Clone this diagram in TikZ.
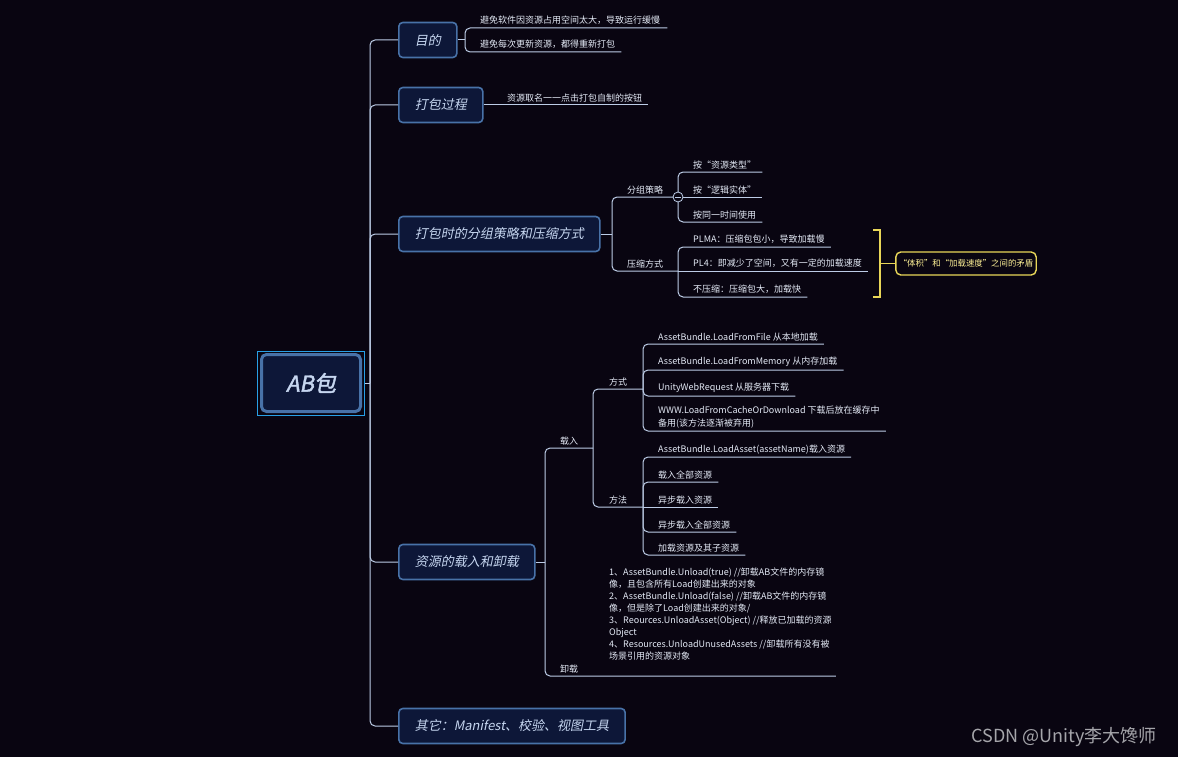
\documentclass[tikz,border=0pt]{standalone}
\usepackage{fontspec}
\setmainfont{Noto Sans CJK SC}
\newfontfamily\topicfont{Noto Sans CJK SC}[FakeSlant=0.2]
\newfontfamily\rootfont{Noto Sans CJK SC}[FakeSlant=0.2, FakeBold=2]
\usepackage{tikz}
\usetikzlibrary{calc,positioning}
\definecolor{bgc}{RGB}{9,5,17}
\definecolor{topicfill}{RGB}{13,23,56}
\definecolor{topicbd}{RGB}{72,114,168}
\definecolor{topictxt}{RGB}{198,214,240}
\definecolor{lnc}{RGB}{188,204,230}
\definecolor{leaftxt}{RGB}{228,234,246}
\definecolor{selbd}{RGB}{40,160,230}
\definecolor{sumc}{RGB}{232,214,88}
\definecolor{sumtxt}{RGB}{255,242,150}
\definecolor{markc}{RGB}{165,165,170}

\begin{document}
\begin{tikzpicture}[x=1pt, y=-1pt,
  topic/.style={draw=topicbd, line width=1.6pt, fill=topicfill, rounded corners=4pt, anchor=west, minimum height=35pt, inner xsep=16pt, text=topictxt, font=\topicfont\fontsize{13}{15}\selectfont},
  rootbox/.style={draw=topicbd, line width=3pt, fill=topicfill, rounded corners=5pt, minimum width=99pt, minimum height=57pt, text=topictxt, font=\rootfont\fontsize{22}{24}\selectfont},
  leaf/.style={anchor=south west, inner xsep=0pt, inner ysep=3pt, text=leaftxt, font=\fontsize{9}{12}\selectfont, align=left},
  ln/.style={draw=lnc, line width=1pt, rounded corners=5pt},
  fold/.style={circle, draw=lnc, fill=bgc, line width=0.8pt, minimum size=10pt, inner sep=0pt,
    path picture={\draw[lnc, line width=0.8pt] ([xshift=-3pt]path picture bounding box.center) -- ([xshift=3pt]path picture bounding box.center);}},
  sumln/.style={draw=sumc, line width=1.4pt}]
  \fill[bgc] (0,0) rectangle (1178,757);
  \useasboundingbox (0,0) rectangle (1178,757);
  % root and main topics
  \node[rootbox] (ab) at (311,383) {AB包};
  \node[draw=selbd, line width=0.8pt, minimum width=107pt, minimum height=64pt] (sel) at (ab) {};
  \coordinate (tr) at (370,383);
  \node[topic] (goal) at (398,40) {目的};
  \node[topic] (pack) at (398,105) {打包过程};
  \node[topic] (strat) at (398,234) {打包时的分组策略和压缩方式};
  \node[topic] (load) at (398,562) {资源的载入和卸载};
  \node[topic] (misc) at (398,726) {其它：Manifest、校验、视图工具};
  \draw[ln] (sel.east) -- (tr);
  \draw[ln] (tr) |- (goal.west);
  \draw[ln] (tr) |- (pack.west);
  \draw[ln] (tr) |- (strat.west);
  \draw[ln] (tr) |- (load.west);
  \draw[ln] (tr) |- (misc.west);
  % goal
  \coordinate (gj) at (465,40);
  \node[leaf] (g1) at (480,28) {避免软件因资源占用空间太大，导致运行缓慢};
  \node[leaf] (g2) at (480,52) {避免每次更新资源，都得重新打包};
  \draw[ln] (goal.east) -- (gj);
  \draw[ln] (gj) |- ($(g1.south east)+(7,0)$);
  \draw[ln] (gj) |- ($(g2.south east)+(6,0)$);
  % pack
  \node[leaf] (p1) at (507,105) {资源取名一一点击打包自制的按钮};
  \draw[ln] (pack.east) -- ($(p1.south east)+(6,0)$);
  % strategy
  \coordinate (sj) at (612,234);
  \node[leaf] (s1) at (627,197) {分组策略};
  \node[leaf] (s2) at (627,271) {压缩方式};
  \coordinate (s2j) at (678,271);
  \node[leaf] (a1) at (693,172) {按“资源类型”};
  \node[leaf] (a2) at (693,197) {按“逻辑实体”};
  \node[leaf] (a3) at (693,222) {按同一时间使用};
  \node[leaf] (b1) at (693,247) {PLMA：压缩包包小，导致加载慢};
  \node[leaf] (b2) at (693,271) {PL4：即减少了空间，又有一定的加载速度};
  \node[leaf] (b3) at (693,297) {不压缩：压缩包大，加载快};
  \draw[ln] (strat.east) -- (sj);
  \draw[ln] (sj) |- (678,197);
  \draw[ln] (sj) |- (s2j);
  \draw[ln] (678,197) |- ($(a1.south east)+(6,0)$);
  \draw[ln] (678,197) -- ($(a2.south east)+(6,0)$);
  \draw[ln] (678,197) |- ($(a3.south east)+(6,0)$);
  \node[fold] (s1f) at (678,197) {};
  \draw[ln] (s2j) |- ($(b1.south east)+(6,0)$);
  \draw[ln] (s2j) -- ($(b2.south east)+(6,0)$);
  \draw[ln] (s2j) |- ($(b3.south east)+(6,0)$);
  % summary
  \coordinate (sumt) at (873,230);
  \coordinate (sumb) at (873,297);
  \node[draw=sumc, line width=1.4pt, fill=bgc, rounded corners=5pt, minimum width=140pt, minimum height=23pt, inner xsep=3pt, text=sumtxt, font=\fontsize{8.4}{10}\selectfont] (sum) at (966,263.5) {“体积”和“加载速度”之间的矛盾};
  \draw[sumln] (sumt) -- ++(7,0) |- (sumb);
  \draw[sumln] (sum.west) -- ++(-16,0);
  % load / unload
  \coordinate (lj) at (545,562);
  \node[leaf] (l1) at (560,448) {载入};
  \coordinate (l1j) at (593,448);
  \node[leaf] (l2) at (560,676) {卸载};
  \node[leaf, font=\fontsize{9}{11.9}\selectfont] (u2) at (609,663) {1、AssetBundle.Unload(true) //卸载AB文件的内存镜\\像，且包含所有Load创建出来的对象\\2、AssetBundle.Unload(false) //卸载AB文件的内存镜\\像，但是除了Load创建出来的对象/\\3、Reources.UnloadAsset(Object) //释放已加载的资源\\Object\\4、Resources.UnloadUnusedAssets //卸载所有没有被\\场景引用的资源对象};
  \node[leaf] (w) at (609,389) {方式};
  \coordinate (wj) at (643,389);
  \node[leaf] (f) at (609,507) {方法};
  \coordinate (fj) at (643,507);
  \node[leaf] (c1) at (658,344) {AssetBundle.LoadFromFile 从本地加载};
  \node[leaf] (c2) at (658,370) {AssetBundle.LoadFromMemory 从内存加载};
  \node[leaf] (c3) at (658,396) {UnityWebRequest 从服务器下载};
  \node[leaf, font=\fontsize{9}{12.5}\selectfont] (c4) at (658,431) {WWW.LoadFromCacheOrDownload 下载后放在缓存中\\备用(该方法逐渐被弃用)};
  \node[leaf] (d1) at (658,457) {AssetBundle.LoadAsset(assetName)载入资源};
  \node[leaf] (d2) at (658,482) {载入全部资源};
  \node[leaf] (d3) at (658,507) {异步载入资源};
  \node[leaf] (d4) at (658,532) {异步载入全部资源};
  \node[leaf] (d5) at (658,555) {加载资源及其子资源};
  \draw[ln] (load.east) -- (lj);
  \draw[ln] (lj) |- (l1j);
  \draw[ln] (lj) |- ($(l2.south -| u2.east)+(4,0)$);
  \draw[ln] (l1j) |- (wj);
  \draw[ln] (l1j) |- (fj);
  \draw[ln] (wj) |- ($(c1.south east)+(6,0)$);
  \draw[ln] (wj) |- ($(c2.south east)+(6,0)$);
  \draw[ln] (wj) |- ($(c3.south east)+(6,0)$);
  \draw[ln] (wj) |- ($(c4.south east)+(6,0)$);
  \draw[ln] (fj) |- ($(d1.south east)+(6,0)$);
  \draw[ln] (fj) |- ($(d2.south east)+(6,0)$);
  \draw[ln] (fj) -- ($(d3.south east)+(6,0)$);
  \draw[ln] (fj) |- ($(d4.south east)+(6,0)$);
  \draw[ln] (fj) |- ($(d5.south east)+(6,0)$);
  % watermark
  \node[text=markc, font=\fontsize{18}{20}\selectfont] (mark) at (1064,737) {CSDN @Unity李大馋师};
\end{tikzpicture}
\end{document}
